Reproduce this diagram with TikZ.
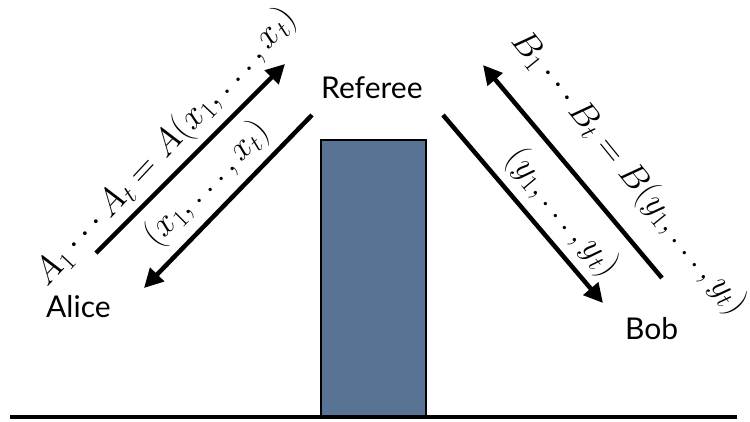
\RequirePackage{fix-cm}
\documentclass[tikz,border=0pt]{standalone}
\usepackage{fontspec}
\newfontfamily\labelfont{Lato}
\usetikzlibrary{arrows.meta}
\definecolor{wallblue}{RGB}{88,115,148}
\tikzset{
  party/.style={font=\labelfont\fontsize{30}{36}\selectfont, inner sep=0pt, anchor=base west},
  msg/.style={line width=4.5pt, -{Triangle[length=19pt,width=19pt]}},
  mathlbl/.style={font=\fontsize{35}{42}\selectfont, inner sep=0pt},
  biglbl/.style={font=\fontsize{36}{43}\selectfont, inner sep=0pt},
  wall/.style={draw=black, line width=2pt, fill=wallblue},
  ground/.style={line width=4pt}
}
\begin{document}
\begin{tikzpicture}[x=1pt,y=-1pt]
\useasboundingbox (0,0) rectangle (750,421);
% wall
\draw[wall] (321,140) rectangle (426,417);
\coordinate (gL) at (10,417);
\coordinate (gR) at (737,417);
\draw[ground] (gL) -- (gR);
% parties
\node[party] (referee) at (321,98) {Referee};
\node[party] (alice) at (46,317) {Alice};
\node[party] (bob) at (625,339) {Bob};
% arrow end points
\coordinate (a1s) at (96,253);
\coordinate (a1e) at (285,64);
\coordinate (a2s) at (312,115);
\coordinate (a2e) at (144,288);
\coordinate (b1s) at (662,278);
\coordinate (b1e) at (483,65);
\coordinate (b2s) at (443,115);
\coordinate (b2e) at (603,303);
\draw[msg] (a1s) -- (a1e);
\draw[msg] (a2s) -- (a2e);
\draw[msg] (b1s) -- (b1e);
\draw[msg] (b2s) -- (b2e);
% labels
\node[biglbl, rotate=47] (la1) at (166,147) {$A_1\cdots A_t = A(x_1,\ldots,x_t)$};
\node[mathlbl, rotate=45] (la2) at (207,184) {$(x_1,\ldots,x_t)$};
\node[mathlbl, rotate=-51] (lb1) at (629,173) {$B_1\cdots B_t = B(y_1,\ldots,y_t)$};
\node[mathlbl, rotate=-50] (lb2) at (562,213) {$(y_1,\ldots,y_t)$};
\end{tikzpicture}
\end{document}
